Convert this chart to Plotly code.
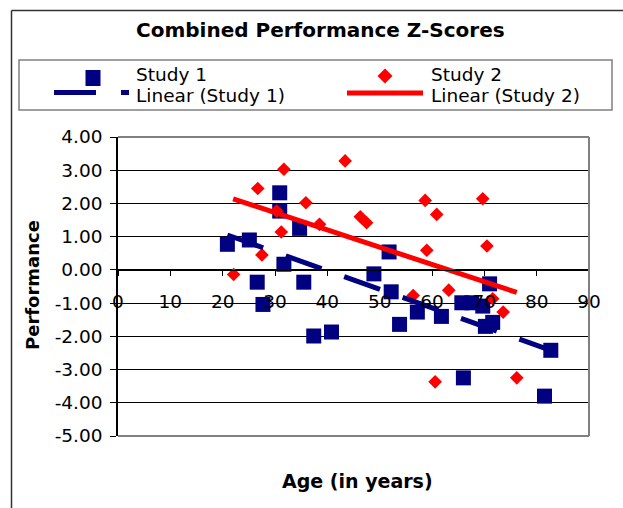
# plot.py
# --------------------------------------------------------------
# Combined Performance Z-Scores : Excel-style scatter of two
# studies (performance z-score vs age) with linear trendlines.
# --------------------------------------------------------------
import plotly.graph_objects as go


# ===============================================================
# Data
# ===============================================================
study1_age   = [20.9, 25.1, 30.9, 30.9, 34.7, 31.7, 26.6, 35.5, 27.7, 37.4,
                40.8, 48.9, 51.8, 52.2, 53.8, 57.2, 61.8, 65.7, 67.6, 69.7,
                71.0, 70.2, 71.6, 66.0, 82.7, 81.5]
study1_score = [0.77, 0.90, 2.32, 1.77, 1.25, 0.17, -0.37, -0.37, -1.04, -1.99,
                -1.87, -0.12, 0.54, -0.66, -1.64, -1.27, -1.40, -0.99, -0.99, -1.09,
                -0.42, -1.70, -1.58, -3.25, -2.42, -3.80]

study2_age   = [22.1, 26.7, 27.5, 31.7, 30.3, 31.2, 35.9, 38.5, 43.4, 46.3,
                47.5, 58.7, 60.9, 59.0, 69.7, 70.5, 63.2, 56.4, 71.6, 73.6,
                60.6, 76.2]
study2_score = [-0.14, 2.45, 0.45, 3.03, 1.77, 1.14, 2.02, 1.37, 3.28, 1.60,
                1.42, 2.09, 1.67, 0.59, 2.14, 0.72, -0.61, -0.77, -0.87, -1.27,
                -3.37, -3.25]

# Linear trendline end points as drawn by Excel
trend1_age   = [20.9, 82.7]
trend1_score = [1.05, -2.42]
trend2_age   = [22.0, 76.2]
trend2_score = [2.14, -0.68]

x_ticks       = [0, 10, 20, 30, 40, 50, 60, 70, 80, 90]
y_ticks       = [-5, -4, -3, -2, -1, 0, 1, 2, 3, 4]
y_tick_labels = ["-5.00", "-4.00", "-3.00", "-2.00", "-1.00",
                 "0.00", "1.00", "2.00", "3.00", "4.00"]

NAVY = "#000080"
RED  = "#FF0000"
FONT = "DejaVu Sans"

# plot area in pixels (623 x 508 canvas)
PLOT_L, PLOT_R, PLOT_T, PLOT_B = 118, 589, 137, 436


def px_x(p):
    return (p - PLOT_L) / (PLOT_R - PLOT_L)


def px_y(p):
    return (PLOT_B - p) / (PLOT_B - PLOT_T)


# ===============================================================
# Traces
# ===============================================================
fig = go.Figure()

fig.add_trace(go.Scatter(
    x      = study1_age,
    y      = study1_score,
    name   = "Study 1",
    mode   = "markers",
    marker = dict(symbol="square", size=15, color=NAVY, line=dict(width=0)),
))

fig.add_trace(go.Scatter(
    x      = study2_age,
    y      = study2_score,
    name   = "Study 2",
    mode   = "markers",
    marker = dict(symbol="diamond", size=10.5, color=RED, line=dict(width=0)),
))

fig.add_trace(go.Scatter(
    x    = trend1_age,
    y    = trend1_score,
    name = "Linear (Study 1)",
    mode = "lines",
    line = dict(color=NAVY, width=5, dash="38px,24px"),
))

fig.add_trace(go.Scatter(
    x    = trend2_age,
    y    = trend2_score,
    name = "Linear (Study 2)",
    mode = "lines",
    line = dict(color=RED, width=5),
))


# ===============================================================
# Decorations : frame, plot border, hand-drawn legend
# ===============================================================
shapes = [
    # outer chart frame (left + top, rest is cropped off)
    dict(type="line", xref="paper", yref="paper",
         x0=px_x(11.5), x1=px_x(11.5), y0=px_y(10.5), y1=px_y(520),
         line=dict(color="#333333", width=1.5)),
    dict(type="line", xref="paper", yref="paper",
         x0=px_x(11.5), x1=px_x(640), y0=px_y(10.5), y1=px_y(10.5),
         line=dict(color="#333333", width=1.5)),
    # plot area border (grey)
    dict(type="line", xref="paper", yref="paper", x0=0, x1=1, y0=1, y1=1,
         line=dict(color="#808080", width=2)),
    dict(type="line", xref="paper", yref="paper", x0=1, x1=1, y0=0, y1=1,
         line=dict(color="#808080", width=2)),
    dict(type="line", xref="paper", yref="paper", x0=0, x1=1, y0=0, y1=0,
         line=dict(color="#808080", width=2)),
    # legend box
    dict(type="rect", xref="paper", yref="paper",
         x0=px_x(19), x1=px_x(612), y0=px_y(110), y1=px_y(60),
         line=dict(color="#808080", width=1.5)),
    # legend: study 1 square
    dict(type="rect", xref="paper", yref="paper",
         x0=px_x(85.5), x1=px_x(100.5), y0=px_y(86), y1=px_y(70),
         fillcolor=NAVY, line=dict(width=0)),
    # legend: study 1 dashed trendline
    dict(type="line", xref="paper", yref="paper",
         x0=px_x(54), x1=px_x(96), y0=px_y(92.5), y1=px_y(92.5),
         line=dict(color=NAVY, width=5)),
    dict(type="line", xref="paper", yref="paper",
         x0=px_x(121), x1=px_x(129), y0=px_y(92.5), y1=px_y(92.5),
         line=dict(color=NAVY, width=5)),
    # legend: study 2 diamond
    dict(type="path", xref="paper", yref="paper",
         path="M {0},{1} L {2},{3} L {0},{4} L {5},{3} Z".format(
             px_x(385), px_y(68.5), px_x(392.5), px_y(76), px_y(83.5), px_x(377.5)),
         fillcolor=RED, line=dict(width=0)),
    # legend: study 2 trendline
    dict(type="line", xref="paper", yref="paper",
         x0=px_x(347), x1=px_x(423), y0=px_y(93), y1=px_y(93),
         line=dict(color=RED, width=5)),
]

legend_font = dict(family=FONT, size=18.5, color="black")
annotations = [
    dict(text="<b>Combined Performance Z-Scores</b>", x=px_x(320), y=px_y(30),
         font=dict(family=FONT, size=20, color="black")),
    dict(text="<b>Age (in years)</b>", x=px_x(357), y=px_y(481),
         font=dict(family=FONT, size=19, color="black")),
    dict(text="<b>Performance</b>", x=px_x(32), y=px_y(285), textangle=-90,
         font=dict(family=FONT, size=18, color="black")),
    dict(text="Study 1", x=px_x(134), y=px_y(75), xanchor="left", font=legend_font),
    dict(text="Linear (Study 1)", x=px_x(134), y=px_y(95), xanchor="left", font=legend_font),
    dict(text="Study 2", x=px_x(429), y=px_y(75), xanchor="left", font=legend_font),
    dict(text="Linear (Study 2)", x=px_x(429), y=px_y(95), xanchor="left", font=legend_font),
]
for a in annotations:
    a.update(xref="paper", yref="paper", showarrow=False)
    a.setdefault("xanchor", "center")
    a.setdefault("yanchor", "middle")


# ===============================================================
# Layout
# ===============================================================
fig.update_layout(
    width         = 623,
    height        = 508,
    margin        = dict(l=PLOT_L, r=623 - PLOT_R, t=PLOT_T, b=508 - PLOT_B, pad=0),
    paper_bgcolor = "white",
    plot_bgcolor  = "white",
    showlegend    = False,
    hovermode     = False,
    font          = dict(family=FONT, size=18.5, color="black"),
    shapes        = shapes,
    annotations   = annotations,
    xaxis = dict(
        range              = [0, 90],
        tickvals           = x_ticks,
        anchor             = "free",
        position           = 5 / 9,          # axis crosses at y = 0
        showline           = True,
        linecolor          = "black",
        linewidth          = 1,
        ticks              = "outside",
        ticklen            = 5,
        tickcolor          = "black",
        showgrid           = False,
        zeroline           = False,
        ticklabelstandoff  = 10,
        tickfont           = dict(family=FONT, size=18.5, color="black"),
    ),
    yaxis = dict(
        range              = [-5, 4],
        tickvals           = y_ticks,
        ticktext           = y_tick_labels,
        showline           = True,
        linecolor          = "black",
        linewidth          = 1.5,
        ticks              = "outside",
        ticklen            = 6,
        tickcolor          = "black",
        showgrid           = True,
        gridcolor          = "black",
        gridwidth          = 1,
        zeroline           = False,
        ticklabelstandoff  = 4,
        tickfont           = dict(family=FONT, size=18.5, color="black"),
    ),
)

# page body has an 8px default margin; drop it so the chart sits at 0,0
fig.write_html(
    "out.html",
    config      = {"displayModeBar": False},
    post_script = "document.body.style.margin = '0';",
)
